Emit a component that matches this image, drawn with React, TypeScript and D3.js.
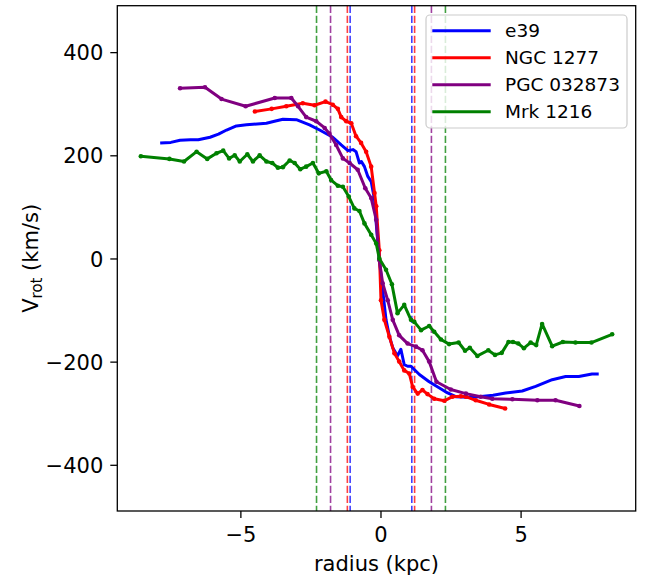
import React from "react";
import * as d3 from "d3";

const e39X = [-7.88,-7.5,-7.17,-6.8,-6.52,-6.1,-5.8,-5.51,-5.16,-4.8,-4.57,-4.09,-3.8,-3.5,-3.02,-2.55,-2.19,-1.72,-1.42,-1.18,-1.0,-0.89,-0.77,-0.7,-0.59,-0.47,-0.35,-0.23,-0.17,-0.06,0.06,0.18,0.3,0.42,0.59,0.71,0.83,0.95,1.07,1.37,1.72,2.32,2.67,3.1,3.5,4.0,4.45,5.04,5.52,6.11,6.59,7.06,7.53,7.77];
const e39V = [225,226,230,231,231,236,242,250,258,260,261,263,267,271,270,260,250,236,221,210,212,208,186,189,179,160,150,115,69,-2,-60,-118,-150,-172,-188,-175,-205,-208,-208,-224,-238,-258,-267,-268,-267,-264,-260,-256,-247,-234,-228,-228,-223,-223];

const n1277X = [-4.5,-3.9,-3.38,-2.79,-2.37,-1.98,-1.72,-1.54,-1.42,-1.24,-1.06,-0.89,-0.71,-0.53,-0.35,-0.23,-0.17,-0.06,0.0,0.12,0.3,0.48,0.65,0.83,1.01,1.13,1.31,1.48,1.66,1.9,2.26,2.55,2.85,3.03,3.38,3.86,4.43];
const n1277V = [286,291,296,302,298,305,299,291,275,267,263,238,225,208,179,128,102,17,-80,-118,-151,-183,-199,-216,-222,-248,-261,-254,-262,-271,-275,-267,-266,-267,-274,-282,-290];

const pgcX = [-7.17,-6.28,-5.69,-4.83,-3.79,-3.2,-2.96,-2.67,-2.31,-2.01,-1.84,-1.6,-1.36,-1.12,-0.83,-0.56,-0.35,-0.17,-0.06,0.06,0.24,0.42,0.65,0.95,1.25,1.48,1.72,1.98,2.49,3.03,3.56,3.97,4.69,5.58,6.23,7.08];
const pgcV = [331,333,310,296,312,312,296,275,267,254,243,221,195,186,173,137,118,76,-2,-47,-80,-118,-148,-164,-170,-177,-199,-238,-253,-261,-267,-271,-272,-274,-274,-285];

const mrkX = [-8.57,-7.55,-7.03,-6.58,-6.2,-5.87,-5.63,-5.42,-5.22,-5.04,-4.77,-4.57,-4.33,-4.09,-3.88,-3.68,-3.5,-3.26,-3.08,-2.88,-2.67,-2.43,-2.22,-1.95,-1.78,-1.54,-1.36,-1.15,-0.95,-0.77,-0.59,-0.35,-0.17,-0.06,0.18,0.39,0.59,0.83,1.07,1.19,1.43,1.72,1.9,2.14,2.43,2.77,3.0,3.17,3.44,3.83,4.07,4.31,4.55,4.71,4.9,5.1,5.34,5.54,5.75,6.11,6.49,6.94,7.51,8.25];
const mrkV = [199,194,189,208,194,205,210,195,201,189,203,189,201,189,186,177,178,191,186,174,179,186,166,170,153,142,140,121,98,93,69,47,30,1,-21,-49,-105,-89,-118,-122,-138,-130,-141,-156,-165,-162,-178,-172,-188,-177,-186,-182,-161,-161,-164,-173,-162,-167,-126,-169,-161,-162,-162,-146];

const seriesNames = ["e39", "NGC 1277", "PGC 032873", "Mrk 1216"];
const seriesColors = ["blue", "red", "purple", "green"];
const seriesMarkers = [false, true, true, true];
const radiiLines = [1.1, 1.2, 1.8, 2.3];

const xTicks = [-5, 0, 5];
const yTicks = [400, 200, 0, -200, -400];

const W = 651, H = 577;
const L = 117.3, R = 635.7, T = 5.7, B = 511;
const FONT = "DejaVu Sans, sans-serif";

export default function App() {
  const x = d3.scaleLinear().domain([-9.41, 9.09]).range([L, R]);
  const y = d3.scaleLinear().domain([-488.6, 491]).range([B, T]);
  const data = [
    [e39X, e39V],
    [n1277X, n1277V],
    [pgcX, pgcV],
    [mrkX, mrkV],
  ].map(([xs, vs]) => xs.map((xv, i) => [xv, vs[i]] as [number, number]));
  const line = d3.line<[number, number]>().x(d => x(d[0])).y(d => y(d[1]));

  const legX = 426, legY = 15, legW = 201, legH = 113;
  return (
    <svg width={W} height={H} style={{ position: "absolute", left: 0, top: 0, background: "white" }} fontFamily={FONT}>
      <rect x={0} y={0} width={W} height={H} fill="white" />
      {radiiLines.map((r, i) =>
        [-r, r].map((rv, j) => (
          <line key={`v${i}${j}`} x1={x(rv)} x2={x(rv)} y1={T} y2={B}
            stroke={seriesColors[i]} strokeWidth={1.6} strokeOpacity={0.75}
            strokeDasharray="7.3,2.7" />
        ))
      )}
      {data.map((d, i) => (
        <g key={`s${i}`}>
          <path d={line(d) || ""} fill="none" stroke={seriesColors[i]} strokeWidth={3} strokeLinejoin="round" strokeLinecap="butt" />
          {seriesMarkers[i] && d.map((p, k) => (
            <circle key={k} cx={x(p[0])} cy={y(p[1])} r={2.3} fill={seriesColors[i]} />
          ))}
        </g>
      ))}
      <rect x={L} y={T} width={R - L} height={B - T} fill="none" stroke="black" strokeWidth={1.3} />
      {xTicks.map(t => (
        <g key={`xt${t}`}>
          <line x1={x(t)} x2={x(t)} y1={B} y2={B + 7} stroke="black" strokeWidth={1.3} />
          <text x={x(t)} y={542} textAnchor="middle" fontSize={21} fill="black">{t < 0 ? `\u2212${Math.abs(t)}` : t}</text>
        </g>
      ))}
      {yTicks.map(t => (
        <g key={`yt${t}`}>
          <line x1={L - 7} x2={L} y1={y(t)} y2={y(t)} stroke="black" strokeWidth={1.3} />
          <text x={L - 14} y={y(t)} dy="0.36em" textAnchor="end" fontSize={21} fill="black">{t < 0 ? `\u2212${Math.abs(t)}` : t}</text>
        </g>
      ))}
      <text x={(L + R) / 2} y={571} textAnchor="middle" fontSize={21} fill="black">radius (kpc)</text>
      <text transform={`translate(38, ${(T + B) / 2}) rotate(-90)`} textAnchor="middle" fontSize={21} fill="black">
        V<tspan fontSize={15} dy={4}>rot</tspan><tspan dy={-4}> (km/s)</tspan>
      </text>
      <rect x={legX} y={legY} width={legW} height={legH} rx={4} fill="white" fillOpacity={0.8} stroke="#cccccc" strokeWidth={1.2} />
      {seriesNames.map((name, i) => {
        const yy = 30.7 + i * 27;
        return (
          <g key={`lg${i}`}>
            <line x1={432.3} x2={490.7} y1={yy} y2={yy} stroke={seriesColors[i]} strokeWidth={3} />
            <text x={505} y={yy} dy="0.36em" fontSize={18.5} fill="black">{name}</text>
          </g>
        );
      })}
    </svg>
  );
}
